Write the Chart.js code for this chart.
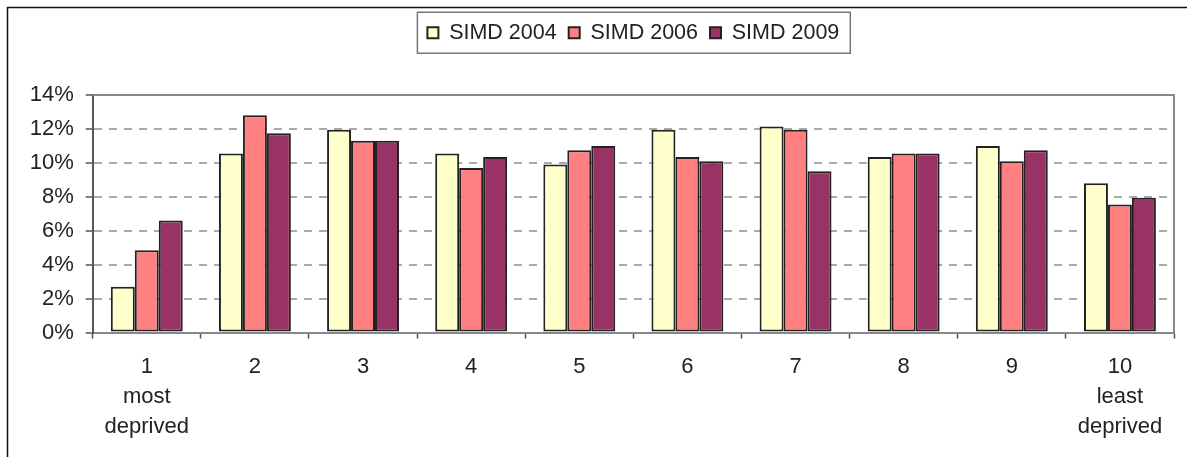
<!DOCTYPE html>
<html lang="en">
<head>
  <meta charset="UTF-8">
  <title>SIMD deciles</title>
  <script src="https://cdn.jsdelivr.net/npm/chart.js"></script>
  <style>
    body {
      margin: 0;
      background: #fff;
    }
    canvas {
      display: block;
    }
  </style>
</head>
<body>

  <canvas id="grafico" width="1187" height="457"></canvas>

  <script>
    // decile categories and the extra lines under the first/last one
    const deciles = ['1', '2', '3', '4', '5', '6', '7', '8', '9', '10'];
    const notas = { '1': ['most', 'deprived'], '10': ['least', 'deprived'] };

    // share of population in each decile (%)
    const simd2004 = [2.7, 10.55, 11.95, 10.55, 9.9, 11.95, 12.15, 10.35, 11.0, 8.8];
    const simd2006 = [4.85, 12.8, 11.3, 9.7, 10.75, 10.35, 11.95, 10.55, 10.1, 7.55];
    const simd2009 = [6.6, 11.75, 11.3, 10.35, 11.0, 10.1, 9.5, 10.55, 10.75, 7.95];

    const yMin = 0, yMax = 14, yPaso = 2;

    const familia = "'Liberation Sans', Arial, sans-serif";
    const fuente = { family: familia, size: 22 };
    const texto = '#222';

    const etiquetas = deciles.map(d => notas[d] ? [d, ...notas[d]] : d);

    // outer frame, plot border and the box round the legend
    const marco = {
      id: 'marco',
      afterLayout(chart) {
        // legend sits high up, centred over the plot
        const l = chart.legend;
        const dy = 10 - l.top;
        l.top += dy;
        l.bottom += dy;
        l.left = chart.chartArea.left;
        l.right = chart.chartArea.right;
      },
      beforeDraw(chart) {
        const ctx = chart.ctx;
        ctx.save();
        ctx.fillStyle = '#fff';
        ctx.fillRect(0, 0, chart.width, chart.height);
        ctx.strokeStyle = '#111';
        ctx.lineWidth = 1.5;
        ctx.strokeRect(7.5, 7.5, chart.width + 50, chart.height + 50);
        ctx.restore();
      },
      beforeDatasetsDraw(chart) {
        const { ctx, chartArea: a } = chart;
        ctx.save();
        ctx.strokeStyle = '#888';
        ctx.lineWidth = 2;
        ctx.beginPath();
        ctx.moveTo(a.left, a.top);
        ctx.lineTo(a.right, a.top);
        ctx.lineTo(a.right, a.bottom);
        ctx.stroke();
        ctx.restore();
      },
      afterDraw(chart) {
        const cajas = chart.legend.legendHitBoxes;
        if (!cajas.length) return;
        const izq = Math.min(...cajas.map(c => c.left));
        const der = Math.max(...cajas.map(c => c.left + c.width));
        const medio = cajas[0].top + cajas[0].height / 2;
        const ctx = chart.ctx;
        ctx.save();
        ctx.strokeStyle = '#777';
        ctx.lineWidth = 1.5;
        ctx.strokeRect(izq - 10, medio - 20.5, der - izq + 21, 41);
        ctx.restore();
      }
    };

    const ctx = document.getElementById('grafico').getContext('2d');
    const grafico = new Chart(ctx, {
      type: 'bar',
      data: {
        labels: etiquetas,
        datasets: [
          { label: 'SIMD 2004', data: simd2004, backgroundColor: '#FFFFCC' },
          { label: 'SIMD 2006', data: simd2006, backgroundColor: '#FF8080' },
          { label: 'SIMD 2009', data: simd2009, backgroundColor: '#993366' }
        ]
      },
      options: {
        responsive: false,
        animation: false,
        layout: { padding: { top: 10, right: 13, bottom: 0, left: 0 } },
        datasets: {
          bar: {
            borderColor: '#222',
            borderWidth: 2,
            borderSkipped: false,
            categoryPercentage: 0.665,
            barPercentage: 1.0
          }
        },
        scales: {
          x: {
            grid: {
              offset: true,
              drawOnChartArea: false,
              tickLength: 6,
              tickColor: '#555',
              tickWidth: 1.5
            },
            border: { color: '#888', width: 2 },
            ticks: { color: texto, font: { ...fuente, lineHeight: 1.35 }, padding: 14, maxRotation: 0 },
            afterFit(scale) { scale.height = 124.5; }
          },
          y: {
            min: yMin,
            max: yMax,
            grid: {
              color: '#aaa',
              lineWidth: 2,
              tickLength: 7,
              tickColor: '#555',
              tickWidth: 1.5
            },
            border: { color: '#555', width: 2, dash: [8, 7] },
            ticks: {
              stepSize: yPaso,
              color: texto,
              font: fuente,
              padding: 12,
              callback: v => v + '%'
            },
            afterFit(scale) {
              scale.width = 92.7;
              scale.paddingTop = 95;
            }
          }
        },
        plugins: {
          legend: {
            position: 'top',
            fullSize: false,
            labels: {
              color: texto,
              font: { family: familia, size: 21.5 },
              boxWidth: 11,
              boxHeight: 11,
              padding: 12
            }
          },
          tooltip: { enabled: false }
        }
      },
      plugins: [marco]
    });
  </script>

</body>
</html>
